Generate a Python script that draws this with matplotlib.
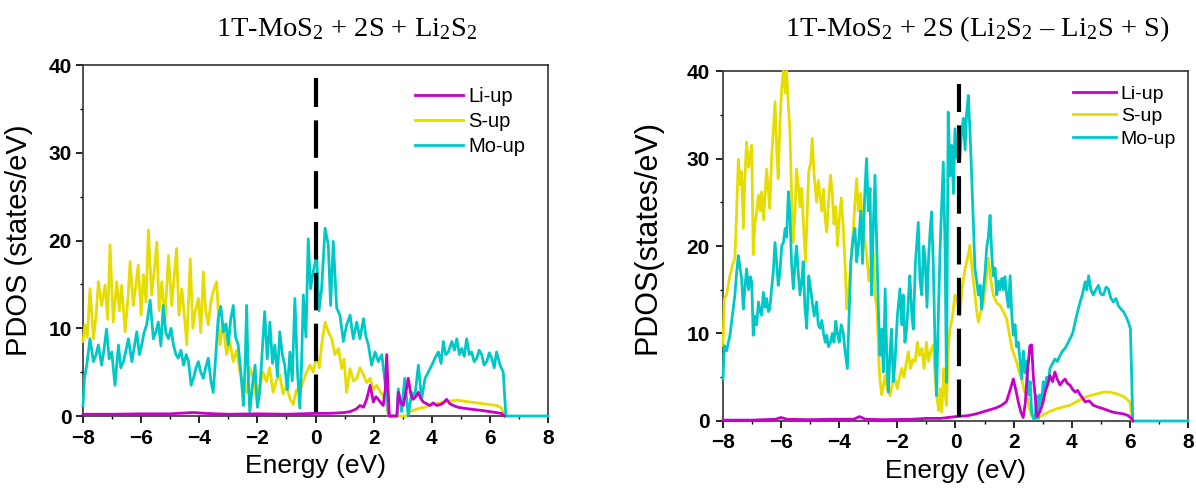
import matplotlib.pyplot as plt
import numpy as np

plt.rcParams['font.family'] = ['Liberation Sans', 'DejaVu Sans']
plt.rcParams['mathtext.fontset'] = 'custom'
plt.rcParams['mathtext.rm'] = 'Liberation Serif'
plt.rcParams['mathtext.it'] = 'Liberation Serif:italic'

li_color = '#c800c8'
s_color = '#e6dc00'
mo_color = '#00c8c8'

series_names = ['Li-up', 'S-up', 'Mo-up']

# ---- left panel: 1T-MoS2 + 2S + Li2S2 ----
left_title = '1T-MoS$_2$ + 2S + Li$_2$S$_2$'
left_fermi = 0.0

left_e_li = [-8.0, -7.0, -6.0, -5.0, -4.2, -3.8, -3.0, -2.0, -1.0, 0.0, 0.5, 1.0, 1.19, 1.4, 1.53,
             1.65, 1.76, 1.88, 1.99, 2.08, 2.16, 2.25, 2.33, 2.4, 2.45, 2.5, 2.54, 2.8, 2.85, 2.94,
             3.02, 3.1, 3.19, 3.28, 3.36, 3.45, 3.54, 3.62, 3.71, 3.82, 3.94, 4.05, 4.17, 4.3, 4.4,
             4.51, 4.62, 4.74, 4.9, 5.08, 5.3, 5.55, 5.8, 6.0, 6.2, 6.4, 6.5]
left_li = [0.2, 0.2, 0.25, 0.25, 0.4, 0.3, 0.2, 0.25, 0.2, 0.3, 0.3, 0.4, 0.5, 0.8, 1.2,
           1.0, 1.9, 3.5, 1.6, 2.2, 1.9, 1.5, 1.2, 3.0, 7.0, 3.0, 0.0, 0.0, 2.7, 1.5,
           1.2, 2.5, 4.3, 2.5, 1.9, 2.2, 2.7, 2.0, 1.6, 1.4, 1.2, 1.5, 1.2, 1.3, 1.5,
           1.9, 1.4, 1.2, 1.0, 0.9, 0.8, 0.7, 0.6, 0.5, 0.4, 0.3, 0.0]

left_e_s = [-8.0, -7.93, -7.85, -7.76, -7.64, -7.55, -7.47, -7.36, -7.24, -7.15, -7.07, -6.96, -6.84,
            -6.75, -6.67, -6.55, -6.45, -6.38, -6.27, -6.18, -6.1, -6.0, -5.92, -5.83, -5.75, -5.64,
            -5.55, -5.46, -5.38, -5.29, -5.18, -5.06, -4.95, -4.86, -4.78, -4.7, -4.6, -4.5, -4.43,
            -4.31, -4.22, -4.14, -4.03, -3.95, -3.86, -3.78, -3.69, -3.6, -3.52, -3.4, -3.29, -3.18,
            -3.06, -2.95, -2.83, -2.72, -2.6, -2.48, -2.37, -2.26, -2.15, -2.03, -1.92, -1.8, -1.69,
            -1.58, -1.46, -1.35, -1.23, -1.12, -1.0, -0.88, -0.77, -0.65, -0.54, -0.42, -0.31, -0.19,
            -0.08, 0.04, 0.13, 0.21, 0.33, 0.44, 0.56, 0.67, 0.79, 0.9, 0.98, 1.07, 1.19, 1.3, 1.42,
            1.53, 1.65, 1.76, 1.88, 1.99, 2.1, 2.22, 2.33, 2.45, 2.52, 3.15, 3.25, 3.42, 3.6, 3.77,
            3.94, 4.17, 4.4, 4.63, 4.86, 5.08, 5.31, 5.55, 5.78, 6.0, 6.23, 6.4, 6.52]
left_s = [8.5, 10.4, 9.0, 14.5, 8.8, 11.5, 15.3, 12.6, 14.9, 11.0, 19.5, 10.7, 15.3,
          12.0, 14.9, 9.6, 13.5, 17.6, 12.6, 15.0, 17.2, 11.5, 16.1, 13.0, 21.2, 13.8,
          16.5, 19.8, 12.0, 15.3, 11.0, 18.3, 12.6, 16.0, 19.1, 11.5, 14.5, 11.0, 8.1,
          17.9, 10.0, 11.9, 13.4, 9.5, 16.4, 12.0, 10.4, 13.0, 14.2, 15.3, 8.1, 10.5,
          7.0, 8.5, 6.2, 7.5, 5.0, 3.5, 2.7, 5.5, 4.3, 2.0, 3.5, 5.0, 3.9,
          5.5, 2.7, 4.0, 4.7, 2.5, 3.5, 2.0, 1.3, 3.0, 2.7, 4.0, 5.0, 5.8,
          5.0, 7.0, 5.5, 8.1, 10.7, 9.6, 8.8, 7.0, 7.7, 5.4, 6.5, 2.7, 5.4, 4.0, 4.3,
          5.5, 4.7, 3.8, 4.3, 3.0, 3.5, 2.8, 2.3, 1.2, 0.0, 0.0, 0.5, 0.7, 0.9, 1.0,
          1.2, 1.4, 1.6, 1.7, 1.8, 1.7, 1.6, 1.5, 1.4, 1.3, 1.2, 0.9, 0.0]

left_e_mo = [-8.0, -7.95, -7.87, -7.76, -7.64, -7.55, -7.47, -7.36, -7.28, -7.19, -7.1, -7.01, -6.9,
             -6.78, -6.7, -6.61, -6.52, -6.44, -6.32, -6.24, -6.15, -6.06, -5.98, -5.9, -5.81, -5.69,
             -5.58, -5.5, -5.41, -5.32, -5.24, -5.15, -5.06, -4.97, -4.89, -4.8, -4.72, -4.63, -4.54,
             -4.45, -4.37, -4.28, -4.2, -4.11, -4.03, -3.95, -3.86, -3.78, -3.69, -3.6, -3.52, -3.43,
             -3.35, -3.26, -3.17, -3.08, -3.0, -2.92, -2.83, -2.75, -2.66, -2.57, -2.48, -2.42, -2.37,
             -2.31, -2.26, -2.17, -2.08, -2.0, -1.92, -1.84, -1.75, -1.66, -1.57, -1.48, -1.4, -1.31,
             -1.23, -1.14, -1.06, -0.97, -0.88, -0.8, -0.71, -0.62, -0.54, -0.48, -0.42, -0.33, -0.25,
             -0.17, -0.08, 0.04, 0.12, 0.21, 0.33, 0.44, 0.52, 0.61, 0.73, 0.84, 0.96, 1.07, 1.19,
             1.3, 1.42, 1.53, 1.65, 1.74, 1.82, 1.93, 2.05, 2.16, 2.28, 2.39, 2.47, 2.51, 2.8, 2.85,
             2.96, 3.07, 3.19, 3.31, 3.42, 3.54, 3.65, 3.77, 3.88, 4.0, 4.11, 4.23, 4.32, 4.4, 4.48,
             4.57, 4.69, 4.78, 4.86, 4.95, 5.03, 5.12, 5.2, 5.29, 5.37, 5.46, 5.55, 5.63, 5.72, 5.8,
             5.89, 5.98, 6.06, 6.15, 6.23, 6.35, 6.46, 6.55, 8.0]
left_mo = [1.2, 4.3, 5.8, 8.8, 6.2, 7.0, 8.1, 5.8, 7.5, 9.9, 6.5, 7.3, 3.5,
           8.1, 5.5, 6.2, 7.5, 8.8, 6.2, 7.8, 9.6, 7.0, 8.1, 9.5, 10.4, 13.2,
           8.8, 9.5, 10.7, 8.0, 12.6, 9.5, 8.8, 10.0, 8.1, 7.0, 6.6, 7.5, 5.8,
           7.0, 6.2, 3.5, 4.3, 5.5, 6.2, 5.0, 4.3, 5.5, 6.6, 4.0, 2.7, 7.0,
           11.1, 12.5, 9.6, 10.5, 8.1, 11.0, 12.6, 9.0, 8.1, 5.0, 1.2, 6.0, 12.6,
           4.0, 0.5, 3.5, 5.8, 1.0, 2.7, 7.0, 11.9, 6.5, 10.7, 6.0, 8.1, 4.5,
           9.6, 7.0, 5.8, 3.0, 7.3, 4.0, 13.4, 5.0, 0.9, 6.0, 13.8, 9.0, 20.2,
           14.5, 16.4, 18.3, 12.0, 14.5, 21.4, 19.5, 12.6, 19.9, 12.3, 11.5, 8.5, 10.4, 11.5,
           8.8, 10.7, 8.8, 11.1, 9.0, 8.1, 5.8, 7.3, 6.2, 7.0, 3.9, 2.0, 0.0, 0.0, 3.1,
           0.5, 4.3, 0.0, 2.7, 2.3, 5.8, 1.9, 4.3, 5.0, 5.8, 6.6, 7.3, 6.0, 8.5, 7.0,
           7.3, 8.5, 7.5, 8.8, 7.0, 7.7, 6.8, 8.8, 7.0, 7.3, 6.2, 6.6, 7.5, 7.0, 5.8,
           6.2, 7.2, 6.6, 5.5, 7.3, 5.8, 5.0, 0.0, 0.0]

# ---- right panel: 1T-MoS2 + 2S (Li2S2 - Li2S + S) ----
right_title = '1T-MoS$_2$ + 2S (Li$_2$S$_2$ \u2013 Li$_2$S + S)'
right_fermi = 0.12

right_e_li = [-8.0, -7.0, -6.2, -6.0, -5.8, -5.0, -4.3, -3.5, -3.3, -3.1, -2.5, -1.5, -1.0, -0.5,
              0.0, 0.4, 0.7, 0.9, 1.2, 1.4, 1.59, 1.75, 1.82, 1.92, 1.99, 2.08, 2.16, 2.25, 2.33,
              2.4, 2.46, 2.51, 2.56, 2.62, 2.68, 2.74, 2.8, 2.9, 3.02, 3.1, 3.18, 3.25, 3.34, 3.42,
              3.5, 3.6, 3.68, 3.77, 3.85, 3.94, 4.03, 4.12, 4.2, 4.29, 4.38, 4.46, 4.6, 4.74, 4.9,
              5.09, 5.25, 5.43, 5.6, 5.8, 5.95, 6.05, 6.1]
right_li = [0.1, 0.1, 0.2, 0.4, 0.2, 0.15, 0.2, 0.2, 0.5, 0.2, 0.15, 0.2, 0.3, 0.3,
            0.5, 0.6, 0.8, 1.0, 1.3, 1.5, 1.8, 2.2, 2.9, 4.0, 4.8, 3.5, 2.2, 1.0, 0.4,
            2.0, 5.0, 6.8, 8.6, 8.7, 5.0, 2.9, 0.5, 1.0, 2.2, 3.5, 4.2, 5.2, 4.5, 5.6,
            4.8, 4.1, 4.5, 4.8, 4.3, 4.1, 3.6, 3.3, 3.5, 3.0, 2.6, 2.2, 2.3, 1.8, 1.6,
            1.4, 1.2, 1.0, 0.9, 0.8, 0.6, 0.3, 0.0]

right_e_s = [-8.0, -7.95, -7.88, -7.76, -7.66, -7.59, -7.53, -7.47, -7.41, -7.36, -7.3, -7.25, -7.19,
             -7.12, -7.06, -7.01, -6.96, -6.9, -6.84, -6.78, -6.72, -6.67, -6.6, -6.55, -6.5, -6.44,
             -6.39, -6.33, -6.27, -6.21, -6.15, -6.1, -6.04, -5.98, -5.92, -5.86, -5.81, -5.75, -5.7,
             -5.64, -5.58, -5.52, -5.47, -5.41, -5.35, -5.29, -5.24, -5.16, -5.1, -5.05, -4.98, -4.93,
             -4.86, -4.78, -4.72, -4.66, -4.6, -4.54, -4.48, -4.43, -4.37, -4.3, -4.24, -4.18, -4.12,
             -4.06, -4.0, -3.93, -3.86, -3.8, -3.74, -3.68, -3.6, -3.52, -3.46, -3.4, -3.34, -3.26,
             -3.2, -3.12, -3.05, -2.98, -2.9, -2.83, -2.77, -2.7, -2.64, -2.6, -2.54, -2.48, -2.42,
             -2.35, -2.25, -2.16, -2.08, -2.0, -1.93, -1.85, -1.77, -1.7, -1.62, -1.55, -1.47, -1.39,
             -1.31, -1.24, -1.16, -1.08, -1.0, -0.93, -0.85, -0.76, -0.7, -0.65, -0.58, -0.53, -0.47,
             -0.4, -0.35, -0.31, -0.25, -0.19, -0.1, -0.02, 0.07, 0.15, 0.24, 0.33, 0.41, 0.5, 0.58,
             0.67, 0.73, 0.79, 0.87, 0.96, 1.05, 1.13, 1.2, 1.3, 1.42, 1.53, 1.65, 1.76, 1.85, 1.94,
             2.02, 2.1, 2.2, 2.28, 2.36, 2.45, 2.54, 2.62, 2.75, 2.9, 3.02, 3.25, 3.48, 3.7, 3.94,
             4.17, 4.4, 4.63, 4.86, 5.08, 5.3, 5.55, 5.78, 6.0, 6.08]
right_s = [8.6, 14.0, 14.4, 16.6, 18.0, 18.6, 24.0, 29.9, 27.0, 28.5, 22.0, 27.5, 31.9,
           29.0, 30.5, 31.5, 19.0, 22.5, 24.0, 25.8, 24.0, 26.2, 23.0, 26.0, 28.8, 26.5,
           24.3, 30.0, 33.0, 36.5, 31.0, 27.7, 34.0, 38.0, 40.0, 37.5, 40.0, 36.0, 33.4,
           26.0, 20.4, 24.0, 28.8, 27.0, 24.5, 26.6, 23.0, 18.2, 24.0, 28.5, 29.5, 32.3,
           28.0, 25.0, 27.5, 25.8, 24.0, 26.5, 23.0, 21.6, 25.0, 28.1, 26.0, 22.5, 24.5,
           20.0, 23.1, 25.5, 22.0, 18.0, 12.8, 14.4, 18.2, 21.5, 25.0, 27.7, 24.0, 26.0,
           22.0, 20.5, 18.9, 16.0, 17.5, 19.2, 14.4, 12.8, 7.0, 4.8, 3.0, 4.0, 5.2,
           3.7, 2.9, 4.5, 4.8, 3.7, 5.0, 6.0, 5.0, 6.5, 7.9, 6.0, 7.0, 6.8,
           9.0, 7.5, 8.3, 6.0, 9.0, 6.8, 8.0, 8.7, 5.0, 2.9, 1.2, 3.7, 1.0,
           6.0, 3.0, 1.8, 8.0, 10.5, 12.0, 14.4, 13.5, 12.1, 15.5, 17.4, 18.5, 20.1, 17.0,
           14.4, 12.5, 11.3, 12.5, 13.6, 16.0, 18.6, 16.5, 14.4, 13.5, 13.2, 12.5, 11.7, 10.0, 8.3,
           7.5, 6.8, 5.5, 4.8, 3.5, 2.9, 1.5, 0.6, 0.3, 0.5, 0.7, 1.1, 1.4, 1.6, 1.8,
           2.2, 2.6, 2.9, 3.1, 3.3, 3.3, 3.1, 2.8, 2.2, 0.0]

right_e_mo = [-8.0, -7.95, -7.88, -7.76, -7.68, -7.59, -7.53, -7.47, -7.41, -7.36, -7.3, -7.25, -7.19,
              -7.12, -7.06, -7.01, -6.96, -6.9, -6.84, -6.78, -6.72, -6.67, -6.61, -6.55, -6.5, -6.44,
              -6.39, -6.33, -6.27, -6.21, -6.15, -6.1, -6.04, -5.98, -5.92, -5.86, -5.81, -5.75, -5.7,
              -5.64, -5.58, -5.52, -5.47, -5.41, -5.35, -5.29, -5.24, -5.18, -5.12, -5.05, -4.98, -4.93,
              -4.86, -4.78, -4.72, -4.66, -4.6, -4.54, -4.48, -4.43, -4.37, -4.3, -4.24, -4.18, -4.12,
              -4.06, -4.0, -3.93, -3.86, -3.8, -3.72, -3.66, -3.6, -3.52, -3.46, -3.4, -3.34, -3.26,
              -3.2, -3.12, -3.06, -3.0, -2.94, -2.89, -2.83, -2.77, -2.71, -2.65, -2.6, -2.54, -2.48,
              -2.42, -2.36, -2.31, -2.25, -2.2, -2.14, -2.08, -2.0, -1.91, -1.85, -1.8, -1.74, -1.68,
              -1.62, -1.57, -1.5, -1.45, -1.38, -1.28, -1.22, -1.16, -1.1, -1.05, -0.98, -0.93, -0.87,
              -0.82, -0.76, -0.7, -0.65, -0.59, -0.53, -0.47, -0.42, -0.36, -0.31, -0.25, -0.19, -0.13,
              -0.07, -0.02, 0.06, 0.15, 0.21, 0.27, 0.33, 0.38, 0.44, 0.5, 0.56, 0.62, 0.67, 0.73,
              0.79, 0.85, 0.9, 0.96, 1.02, 1.07, 1.13, 1.19, 1.25, 1.3, 1.36, 1.42, 1.48, 1.53, 1.59,
              1.65, 1.7, 1.76, 1.82, 1.88, 1.94, 1.99, 2.05, 2.1, 2.16, 2.22, 2.28, 2.34, 2.4, 2.45,
              2.51, 2.57, 2.62, 2.68, 2.74, 2.79, 2.85, 2.9, 2.96, 3.02, 3.08, 3.14, 3.2, 3.25, 3.33,
              3.42, 3.5, 3.6, 3.68, 3.77, 3.85, 3.94, 4.03, 4.12, 4.2, 4.29, 4.37, 4.46, 4.52, 4.58,
              4.66, 4.74, 4.83, 4.92, 5.0, 5.09, 5.18, 5.26, 5.35, 5.43, 5.52, 5.6, 5.69, 5.78, 5.86,
              5.95, 6.02, 6.06, 6.1, 8.0]
right_mo = [4.8, 8.6, 8.0, 9.8, 12.0, 14.4, 17.0, 18.9, 17.5, 16.3, 12.8, 15.0, 17.4,
            15.0, 16.5, 15.9, 9.8, 12.0, 11.0, 13.6, 12.5, 12.1, 14.7, 13.0, 14.0, 12.5,
            12.8, 15.0, 17.0, 20.4, 18.0, 15.5, 17.0, 20.0, 20.4, 22.0, 21.0, 26.2, 24.0,
            18.0, 15.1, 18.0, 20.0, 17.0, 14.4, 16.0, 18.2, 13.0, 10.6, 16.6, 15.0, 13.6,
            12.0, 13.6, 11.0, 10.6, 11.5, 10.0, 9.0, 9.8, 8.5, 9.0, 10.0, 9.0, 11.4,
            10.0, 9.0, 11.0, 10.0, 8.0, 6.0, 12.0, 18.2, 21.0, 22.0, 18.2, 20.0, 24.0,
            18.0, 26.0, 30.0, 24.0, 26.6, 14.4, 22.0, 28.1, 20.0, 12.5, 7.5, 10.5, 5.6,
            15.1, 6.8, 3.3, 8.0, 10.5, 4.5, 6.8, 12.0, 15.1, 11.0, 14.4, 9.0, 10.5,
            14.0, 16.6, 12.0, 10.5, 18.0, 22.7, 16.0, 14.4, 20.0, 18.9, 13.0, 18.2, 22.0,
            23.9, 17.4, 8.0, 2.9, 12.0, 19.7, 25.0, 29.6, 20.0, 4.4, 35.3, 28.0, 31.5,
            26.0, 33.4, 30.0, 30.0, 33.0, 34.6, 31.0, 35.0, 37.2, 33.0, 27.7, 22.0, 17.4, 16.0,
            14.4, 15.5, 12.8, 15.0, 17.0, 19.7, 21.0, 23.5, 19.0, 16.6, 17.5, 14.4, 16.0, 15.0, 16.3,
            15.0, 16.5, 14.4, 13.0, 16.6, 12.0, 9.8, 11.0, 8.5, 9.0, 7.0, 4.8, 8.0, 5.5, 6.8,
            3.0, 4.5, 1.0, 0.3, 0.2, 2.9, 0.3, 3.0, 2.0, 4.5, 3.5, 5.0, 4.5, 6.0, 6.5,
            7.1, 6.8, 7.5, 8.0, 8.3, 8.8, 9.4, 10.0, 11.3, 12.5, 13.6, 14.5, 15.9, 15.0, 16.6,
            15.0, 14.4, 15.0, 15.5, 14.5, 14.4, 15.3, 15.1, 14.0, 13.6, 14.0, 13.2, 12.8, 12.5, 12.0,
            11.3, 10.5, 5.0, 0.0, 0.0]

xticks = [-8, -6, -4, -2, 0, 2, 4, 6, 8]
yticks = [0, 10, 20, 30, 40]


def draw_panel(ax, e_li, li, e_s, s, e_mo, mo, fermi, ylabel, ylab_size, ylab_xy, leg_anchor,
               leg_size, leg_len, leg_space, tick_pad):
    l1, = ax.plot(e_li, li, color=li_color, lw=2, zorder=5, clip_on=False)
    l2, = ax.plot(e_s, s, color=s_color, lw=2, zorder=3, clip_on=False)
    l3, = ax.plot(e_mo, mo, color=mo_color, lw=2, zorder=4, clip_on=False)
    ax.axvline(fermi, ymin=0.012, ymax=0.963, color='black', lw=3, dashes=(9, 3.2), zorder=6)

    ax.set_xlim(-8, 8)
    ax.set_ylim(0, 40)
    ax.set_xticks(xticks)
    ax.set_yticks(yticks)
    ax.set_xticks(np.arange(-7, 8, 2), minor=True)
    ax.set_yticks([5, 15, 25, 35], minor=True)
    ax.tick_params(which='major', direction='out', length=5, width=1.2, labelsize=15)
    ax.tick_params(which='minor', direction='out', length=2.5, width=1.0)
    ax.tick_params(axis='x', pad=4)
    ax.tick_params(axis='y', pad=tick_pad)
    for lab in ax.get_xticklabels() + ax.get_yticklabels():
        lab.set_fontweight('bold')
    for sp in ax.spines.values():
        sp.set_linewidth(1.2)
        sp.set_color('#333333')

    ax.set_xlabel('Energy (eV)', fontsize=19)
    ax.set_ylabel(ylabel, fontsize=ylab_size)
    ax.yaxis.set_label_coords(*ylab_xy)
    ax.xaxis.set_label_coords(0.5, -0.108)

    ax.legend([l1, l2, l3], series_names, loc='upper left', bbox_to_anchor=leg_anchor,
              frameon=False, fontsize=leg_size, handlelength=leg_len, handletextpad=0.25,
              labelspacing=leg_space, borderpad=0, borderaxespad=0)


fig = plt.figure(figsize=(11.96, 4.88), dpi=100)

ax1 = fig.add_axes([0.0694, 0.1475, 0.3888, 0.7193])
draw_panel(ax1, left_e_li, left_li, left_e_s, left_s, left_e_mo, left_mo, left_fermi,
           'PDOS (states/eV)', 21, (-0.1075, 0.5), (0.714, 0.937), 14.5, 2.4, 0.3, 3)

ax2 = fig.add_axes([0.6045, 0.1373, 0.3888, 0.7172])
draw_panel(ax2, right_e_li, right_li, right_e_s, right_s, right_e_mo, right_mo, right_fermi,
           'PDOS(states/eV)', 22, (-0.131, 0.525), (0.753, 0.96), 14, 2.2, 0.25, 4.5)

fig.text(0.290, 0.940, left_title, family='Liberation Serif', fontsize=20.5, ha='center', va='center')
fig.text(0.817, 0.940, right_title, family='Liberation Serif', fontsize=20.5, ha='center', va='center')

fig.savefig('out.png', dpi=100)
